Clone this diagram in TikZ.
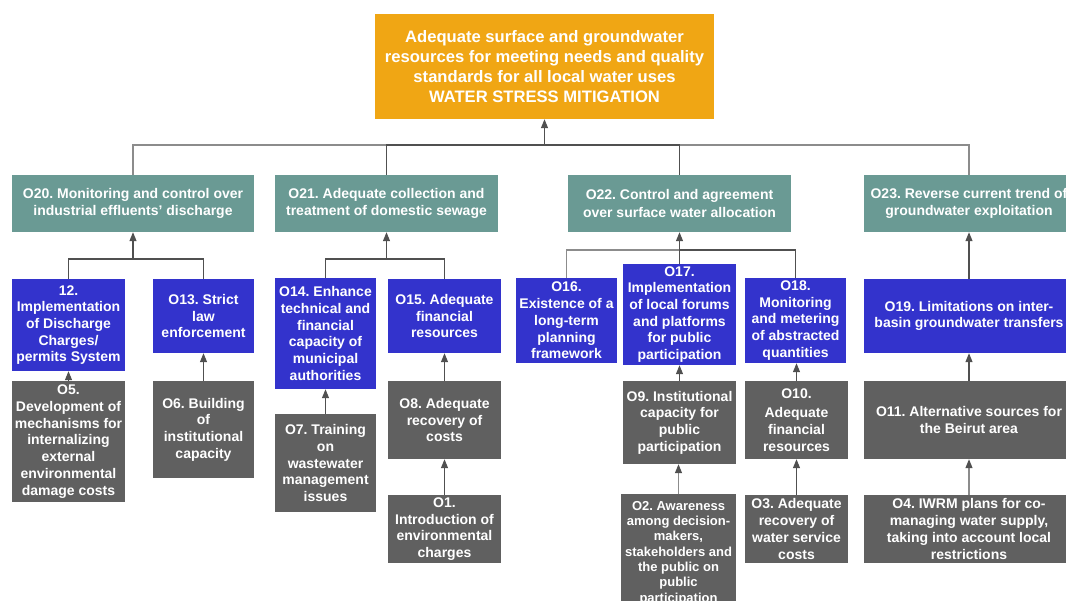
\documentclass[tikz,border=0pt]{standalone}
\usepackage{fontspec}
\setmainfont{Liberation Sans}
\usetikzlibrary{arrows.meta}
\frenchspacing
\definecolor{goalorange}{RGB}{240,166,20}
\definecolor{objteal}{RGB}{106,154,148}
\definecolor{objblue}{RGB}{51,51,204}
\definecolor{objgrey}{RGB}{96,96,96}
\definecolor{linedark}{RGB}{80,80,80}
\definecolor{linelight}{RGB}{140,140,140}
\tikzset{
  box/.style 2 args={draw=none, inner sep=1pt, align=center, text=white,
    minimum width=#1, minimum height=#2,
    font=\bfseries\fontsize{14}{16.7}\selectfont},
  goalbox/.style={box={#1}{105pt}, fill=goalorange,
    font=\bfseries\fontsize{16.6}{20.2}\selectfont},
  tealbox/.style={box={#1}{57pt}, fill=objteal,
    font=\bfseries\fontsize{14}{17.3}\selectfont},
  bluebox/.style 2 args={box={#1}{#2}, fill=objblue},
  greybox/.style 2 args={box={#1}{#2}, fill=objgrey},
  link/.style={draw=linedark, line width=1.2pt},
  faint/.style={draw=linelight, line width=1.2pt},
  arr/.style={link, -{Triangle[length=9pt,width=7pt]}},
  farr/.style={faint, -{Triangle[length=9pt,width=7pt,color=linedark]}}
}
\begin{document}
\begin{tikzpicture}[x=1pt,y=-1pt]
\useasboundingbox (0,0) rectangle (1066,601);
\clip (0,0) rectangle (1066,601);

% goal
\node[goalbox=339pt] (top) at (544.5,66.5)
  {Adequate surface and groundwater\\resources for meeting needs and quality\\standards for all local water uses\\WATER STRESS MITIGATION};

% second level objectives
\node[tealbox=242pt] (o20) at (133,203.5) {O20. Monitoring and control over\\industrial effluents' discharge};
\node[tealbox=223pt] (o21) at (386.5,203.5) {O21. Adequate collection and\\treatment of domestic sewage};
\node[tealbox=223pt] (o22) at (679.5,203.5) {O22. Control and agreement\\over surface water allocation};
\node[tealbox=210pt] (o23) at (969,203.5) {O23. Reverse current trend of\\groundwater exploitation};

% branch O20
\node[bluebox={113pt}{92pt}] (n12) at (68.5,325) {12.\\Implementation\\of Discharge\\Charges/\\permits System};
\node[bluebox={101pt}{74pt}] (o13) at (203.5,316) {O13. Strict\\law\\enforcement};
\node[greybox={113pt}{121pt}] (o5) at (68.5,441.5) {O5.\\Development of\\mechanisms for\\internalizing\\external\\environmental\\damage costs};
\node[greybox={101pt}{97pt}] (o6) at (203.5,429.5) {O6. Building\\of\\institutional\\capacity};

% branch O21
\node[bluebox={101pt}{111pt}] (o14) at (325.5,333.5) {O14. Enhance\\technical and\\financial\\capacity of\\municipal\\authorities};
\node[bluebox={113pt}{74pt}] (o15) at (444.5,316) {O15. Adequate\\financial\\resources};
\node[greybox={101pt}{98pt}] (o7) at (325.5,463) {O7. Training\\on\\wastewater\\management\\issues};
\node[greybox={113pt}{78pt}] (o8) at (444.5,420) {O8. Adequate\\recovery of\\costs};
\node[greybox={113pt}{68pt}] (o1) at (444.5,529) {O1.\\Introduction of\\environmental\\charges};

% branch O22
\node[bluebox={101pt}{85pt}] (o16) at (566.5,320.5) {O16.\\Existence of a\\long-term\\planning\\framework};
\node[bluebox={113pt}{101pt}] (o17) at (679.5,314.5) {O17.\\Implementation\\of local forums\\and platforms\\for public\\participation};
\node[bluebox={101pt}{85pt}] (o18) at (795.5,320.5) {O18.\\Monitoring\\and metering\\of abstracted\\quantities};
\node[greybox={113pt}{83pt}] (o9) at (679.5,422.5) {O9. Institutional\\capacity for\\public\\participation};
\node[greybox={103pt}{78pt}] (o10) at (796.5,420) {O10.\\[3pt]Adequate\\financial\\resources};
\node[greybox={115pt}{118pt}, font=\bfseries\fontsize{13}{15.3}\selectfont] (o2) at (678.5,553)
  {O2. Awareness\\among decision-\\makers,\\stakeholders and\\the public on\\public\\participation};
\node[greybox={103pt}{68pt}] (o3) at (796.5,529) {O3. Adequate\\recovery of\\water service\\costs};

% branch O23
\node[bluebox={210pt}{74pt}] (o19) at (969,316) {O19. Limitations on inter-\\basin groundwater transfers};
\node[greybox={210pt}{78pt}] (o11) at (969,420) {O11. Alternative sources for\\the Beirut area};
\node[greybox={210pt}{68pt}] (o4) at (969,529) {O4. IWRM plans for co-\\managing water supply,\\taking into account local\\restrictions};

% junction points of the connector buses
\coordinate (b0) at (544.5,145);
\coordinate (j20) at (133,259);
\coordinate (j21) at (386.5,259);
\coordinate (j22) at (679.5,250);

% top bus
\draw[faint] (o20.north) |- (b0);
\draw[faint] (o23.north) |- (b0);
\draw[link] (o21.north) |- (b0);
\draw[link] (o22.north) |- (b0);
\draw[arr] (b0) -- (top.south);

% O20 branch
\draw[link] (n12.north) |- (j20);
\draw[link] (o13.north) |- (j20);
\draw[arr] (j20) -- (o20.south);
\draw[arr] (o5.north) -- (n12.south);
\draw[arr] (o6.north) -- (o13.south);

% O21 branch
\draw[link] (o14.north) |- (j21);
\draw[link] (o15.north) |- (j21);
\draw[arr] (j21) -- (o21.south);
\draw[arr] (o7.north) -- (o14.south);
\draw[arr] (o8.north) -- (o15.south);
\draw[arr] (o1.north) -- (o8.south);

% O22 branch
\draw[faint] (o16.north) |- (j22);
\draw[link] (o18.north) |- (j22);
\draw[link] (o17.north) -- (j22);
\draw[arr] (j22) -- (o22.south);
\draw[arr] (o9.north) -- (o17.south);
\draw[arr] (o10.north) -- (o10.north |- o18.south);
\draw[farr] (o2.north) -- (o2.north |- o9.south);
\draw[arr] (o3.north) -- (o10.south);

% O23 branch
\draw[arr] (o19.north) -- (o23.south);
\draw[arr] (o11.north) -- (o19.south);
\draw[farr] (o4.north) -- (o11.south);
\end{tikzpicture}
\end{document}
